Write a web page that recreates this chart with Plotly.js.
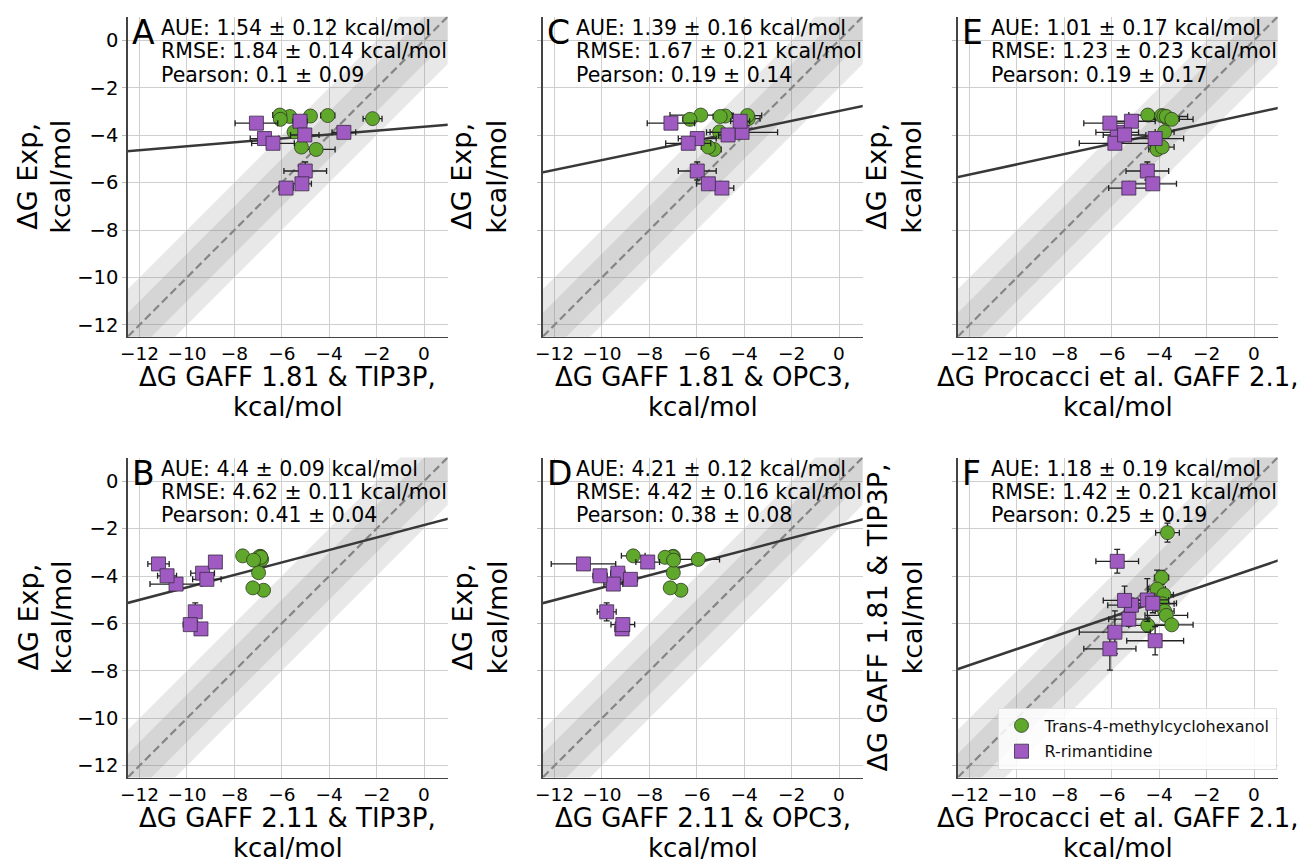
<!DOCTYPE html>
<html>
<head>
<meta charset="utf-8">
<script src="https://cdn.plot.ly/plotly-3.0.1.min.js"></script>
<style>
html,body{margin:0;padding:0;background:#fff;}
#chart{width:1315px;height:864px;}
</style>
</head>
<body>
<div id="chart"></div>
<script>
// ---------------- DATA ----------------
// Compound order (circles): Trans-4-methylcyclohexanol set c1..c9
// Compound order (squares): R-rimantidine set s1..s9
const seriesNames = ['Trans-4-methylcyclohexanol', 'R-rimantidine'];

// Experimental ΔG (kcal/mol)
const expCirc    = [-3.30, -3.17, -4.60, -3.19, -4.50, -3.86, -3.21, -3.15, -3.33];
const expCircErr = [0.05, 0.05, 0.05, 0.05, 0.05, 0.05, 0.05, 0.05, 0.05];
const expSq      = [-3.88, -3.49, -4.14, -4.34, -6.23, -3.41, -3.99, -5.51, -6.05];
const expSqErr   = [0.1, 0.1, 0.1, 0.1, 0.1, 0.1, 0.1, 0.38, 0.1];

// ΔG GAFF 1.81 & TIP3P
const gaff181TipCirc    = [-2.17, -4.06, -4.55, -4.79, -5.17, -5.48, -5.66, -6.08, -6.06];
const gaff181TipCircErr = [0.4, 0.3, 0.8, 0.2, 0.2, 0.2, 0.2, 0.3, 0.2];
const gaff181TipSq      = [-3.38, -7.07, -6.73, -6.37, -5.82, -5.23, -5.03, -5.01, -5.15];
const gaff181TipSqErr   = [0.5, 0.9, 0.6, 0.9, 0.3, 0.3, 0.6, 0.9, 0.4];

// ΔG GAFF 1.81 & OPC3
const gaff181OpcCirc    = [-3.83, -3.86, -5.27, -4.80, -5.51, -5.04, -5.01, -5.83, -6.29];
const gaff181OpcCircErr = [0.5, 0.6, 0.3, 0.3, 0.3, 0.4, 0.3, 1.3, 0.3];
const gaff181OpcSq      = [-4.09, -7.09, -5.98, -6.36, -4.94, -4.17, -4.68, -5.98, -5.51];
const gaff181OpcSqErr   = [1.5, 1.0, 0.8, 0.95, 0.5, 0.4, 0.4, 0.8, 0.5];

// ΔG Procacci et al. GAFF 2.1
const procacciCirc    = [-3.65, -3.90, -4.09, -3.80, -3.87, -3.77, -3.70, -4.48, -3.47];
const procacciCircErr = [0.5, 0.3, 0.35, 0.4, 0.5, 0.4, 0.9, 0.8, 0.9];
const procacciSq      = [-5.77, -6.08, -4.17, -5.87, -5.28, -5.17, -5.46, -4.50, -4.27];
const procacciSqErr   = [0.9, 1.1, 1.2, 1.5, 0.85, 1.0, 0.9, 0.9, 1.0];

// ΔG GAFF 2.11 & TIP3P
const gaff211TipCirc    = [-6.85, -6.90, -6.77, -6.95, -7.22, -6.98, -6.88, -7.65, -7.19];
const gaff211TipCircErr = [0.2, 0.2, 0.1, 0.2, 0.1, 0.1, 0.2, 0.1, 0.1];
const gaff211TipSq      = [-9.34, -11.20, -9.16, -10.46, -9.41, -8.80, -10.84, -9.65, -9.86];
const gaff211TipSqErr   = [0.5, 0.45, 0.6, 1.1, 0.1, 0.1, 0.4, 0.15, 0.3];

// ΔG GAFF 2.11 & OPC3
const gaff211OpcCirc    = [-5.94, -6.99, -6.67, -7.02, -7.12, -6.99, -7.34, -8.68, -6.98];
const gaff211OpcCircErr = [0.9, 0.2, 0.1, 0.2, 0.1, 0.1, 0.2, 0.5, 0.2];
const gaff211OpcSq      = [-9.33, -10.78, -8.80, -9.52, -9.15, -8.07, -10.08, -9.80, -9.12];
const gaff211OpcSqErr   = [0.3, 1.36, 0.3, 0.4, 0.3, 0.5, 0.3, 0.4, 0.5];

// Panel letters, statistics and regression lines (order A, C, E, B, D, F)
const panelLetters  = ['A', 'C', 'E', 'B', 'D', 'F'];
const statAUE       = ['1.54 ± 0.12', '1.39 ± 0.16', '1.01 ± 0.17', '4.4 ± 0.09', '4.21 ± 0.12', '1.18 ± 0.19'];
const statRMSE      = ['1.84 ± 0.14', '1.67 ± 0.21', '1.23 ± 0.23', '4.62 ± 0.11', '4.42 ± 0.16', '1.42 ± 0.21'];
const statPearson   = ['0.1 ± 0.09', '0.19 ± 0.14', '0.19 ± 0.17', '0.41 ± 0.04', '0.38 ± 0.08', '0.25 ± 0.19'];
const fitSlope      = [0.082, 0.207, 0.216, 0.263, 0.262, 0.339];
const fitIntercept  = [-3.645, -2.98, -3.07, -1.85, -1.87, -3.69];
const xTitles = ['ΔG GAFF 1.81 & TIP3P,', 'ΔG GAFF 1.81 & OPC3,', 'ΔG Procacci et al. GAFF 2.1,',
                 'ΔG GAFF 2.11 & TIP3P,', 'ΔG GAFF 2.11 & OPC3,', 'ΔG Procacci et al. GAFF 2.1,'];
const yTitles = ['ΔG Exp,', 'ΔG Exp,', 'ΔG Exp,', 'ΔG Exp,', 'ΔG Exp,', 'ΔG GAFF 1.81 & TIP3P,'];
const unitLabel = 'kcal/mol';
const tickValues = [-12, -10, -8, -6, -4, -2, 0];
const axisRange = [-12.5, 1];
const bandHalfWidths = [2, 1];

// ---------------- PANELS ----------------
const panels = [
  {xc: gaff181TipCirc, xce: gaff181TipCircErr, yc: expCirc, yce: expCircErr,
   xs: gaff181TipSq, xse: gaff181TipSqErr, ys: expSq, yse: expSqErr, col: 0, row: 0, yLabels: true},
  {xc: gaff181OpcCirc, xce: gaff181OpcCircErr, yc: expCirc, yce: expCircErr,
   xs: gaff181OpcSq, xse: gaff181OpcSqErr, ys: expSq, yse: expSqErr, col: 1, row: 0, yLabels: false},
  {xc: procacciCirc, xce: procacciCircErr, yc: expCirc, yce: expCircErr,
   xs: procacciSq, xse: procacciSqErr, ys: expSq, yse: expSqErr, col: 2, row: 0, yLabels: false},
  {xc: gaff211TipCirc, xce: gaff211TipCircErr, yc: expCirc, yce: expCircErr,
   xs: gaff211TipSq, xse: gaff211TipSqErr, ys: expSq, yse: expSqErr, col: 0, row: 1, yLabels: true},
  {xc: gaff211OpcCirc, xce: gaff211OpcCircErr, yc: expCirc, yce: expCircErr,
   xs: gaff211OpcSq, xse: gaff211OpcSqErr, ys: expSq, yse: expSqErr, col: 1, row: 1, yLabels: false},
  {xc: procacciCirc, xce: procacciCircErr, yc: gaff181TipCirc, yce: gaff181TipCircErr,
   xs: procacciSq, xse: procacciSqErr, ys: gaff181TipSq, yse: gaff181TipSqErr, col: 2, row: 1, yLabels: false, legend: true}
];

// ---------------- LAYOUT GEOMETRY ----------------
const W = 1315, H = 864;
const colLeft = [127.7, 542.7, 957.7];
const rowTop = [16.7, 457.5];
const SIZE = 320;
const GREEN = '#5fa82c';
const PURPLE = '#9f5bc2';
const FONT = 'DejaVu Sans';

const px = v => v / W;
const py = v => 1 - v / H;

const traces = [];
const annotations = [];
const layout = {
  width: W, height: H,
  margin: {l: 0, r: 0, t: 0, b: 0},
  paper_bgcolor: '#ffffff',
  plot_bgcolor: '#ffffff',
  font: {family: FONT, color: '#000'},
  hovermode: false,
  showlegend: true,
  legend: {
    x: px(1276.5), xanchor: 'right',
    y: py(769.5), yanchor: 'bottom',
    bgcolor: 'rgba(255,255,255,0.85)',
    bordercolor: 'rgba(220,220,220,0.9)', borderwidth: 1,
    font: {family: FONT, size: 16, color: '#111'},
    itemwidth: 36,
    tracegroupgap: 2
  },
  annotations: annotations
};

function ann(x, y, text, size, extra) {
  annotations.push(Object.assign({
    xref: 'paper', yref: 'paper', x: px(x), y: py(y), text: text,
    showarrow: false, xanchor: 'left', yanchor: 'middle', borderpad: 0,
    font: {family: FONT, size: size, color: '#000'}
  }, extra || {}));
}

panels.forEach((p, i) => {
  const n = i + 1;
  const xa = 'x' + (n === 1 ? '' : n), ya = 'y' + (n === 1 ? '' : n);
  const L = colLeft[p.col], T = rowTop[p.row];
  const B = T + SIZE;

  layout['xaxis' + (n === 1 ? '' : n)] = {
    domain: [px(L), px(L + SIZE)], range: axisRange, anchor: ya,
    tickvals: tickValues, showgrid: true, gridcolor: '#cfcfcf', gridwidth: 1,
    zeroline: false, showline: true, linecolor: '#444', linewidth: 1.5,
    ticks: '', tickfont: {family: FONT, size: 18.5, color: '#000'}, fixedrange: true
  };
  layout['yaxis' + (n === 1 ? '' : n)] = {
    domain: [py(B), py(T)], range: axisRange, anchor: xa,
    tickvals: tickValues, showgrid: true, gridcolor: '#cfcfcf', gridwidth: 1,
    zeroline: false, showline: true, linecolor: '#444', linewidth: 1.5,
    ticks: 'outside', ticklen: 4, tickcolor: '#bbbbbb',
    showticklabels: p.yLabels, tickfont: {family: FONT, size: 19.5, color: '#000'}, fixedrange: true
  };

  // confidence bands around y = x
  const lo = axisRange[0] - 5, hi = axisRange[1] + 5;
  bandHalfWidths.forEach(w => {
    traces.push({
      type: 'scatter', mode: 'lines', xaxis: xa, yaxis: ya, showlegend: false,
      x: [lo, hi, hi, lo, lo], y: [lo - w, hi - w, hi + w, lo + w, lo - w],
      fill: 'toself', fillcolor: 'rgba(128,128,128,0.18)', line: {width: 0}, hoverinfo: 'skip'
    });
  });
  // identity dashed line
  traces.push({
    type: 'scatter', mode: 'lines', xaxis: xa, yaxis: ya, showlegend: false,
    x: [lo, hi], y: [lo, hi], line: {color: '#858585', width: 2.2, dash: '8px,4px'}
  });
  // regression line
  traces.push({
    type: 'scatter', mode: 'lines', xaxis: xa, yaxis: ya, showlegend: false,
    x: [lo, hi], y: [fitSlope[i] * lo + fitIntercept[i], fitSlope[i] * hi + fitIntercept[i]],
    line: {color: '#383838', width: 2.5}
  });
  // data points
  const errStyle = {type: 'data', visible: true, color: '#222', thickness: 1.3, width: 3};
  traces.push({
    type: 'scatter', mode: 'markers', xaxis: xa, yaxis: ya,
    name: seriesNames[0], legendgroup: 'c', showlegend: !!p.legend,
    x: p.xc, y: p.yc,
    error_x: Object.assign({array: p.xce}, errStyle),
    error_y: Object.assign({array: p.yce}, errStyle),
    marker: {symbol: 'circle', size: 14, color: GREEN, line: {color: '#2d3a20', width: 0.8}}
  });
  traces.push({
    type: 'scatter', mode: 'markers', xaxis: xa, yaxis: ya,
    name: seriesNames[1], legendgroup: 's', showlegend: !!p.legend,
    x: p.xs, y: p.ys,
    error_x: Object.assign({array: p.xse}, errStyle),
    error_y: Object.assign({array: p.yse}, errStyle),
    marker: {symbol: 'square', size: 14, color: PURPLE, line: {color: '#3a2a45', width: 0.8}}
  });

  // panel letter and statistics
  ann(L + 3, T + 15.6, panelLetters[i], 33);
  ann(L + 32, T + 11.1, 'AUE: ' + statAUE[i] + ' kcal/mol', 20.5);
  ann(L + 32, T + 34.4, 'RMSE: ' + statRMSE[i] + ' kcal/mol', 20.5);
  ann(L + 32, T + 57.8, 'Pearson: ' + statPearson[i], 20.5);

  // axis titles
  ann(L + SIZE / 2, B + 40, xTitles[i], 26, {xanchor: 'center'});
  ann(L + SIZE / 2, B + 70.5, unitLabel, 26, {xanchor: 'center'});
  const yOff1 = p.yLabels ? -99.7 : -80.7;
  const yOff2 = p.yLabels ? -66.7 : -45.7;
  ann(L + yOff1, T + SIZE / 2, yTitles[i], 27, {xanchor: 'center', textangle: -90});
  ann(L + yOff2, T + SIZE / 2, unitLabel, 27, {xanchor: 'center', textangle: -90});
});

Plotly.newPlot('chart', traces, layout, {displayModeBar: false, staticPlot: true});
</script>
</body>
</html>
